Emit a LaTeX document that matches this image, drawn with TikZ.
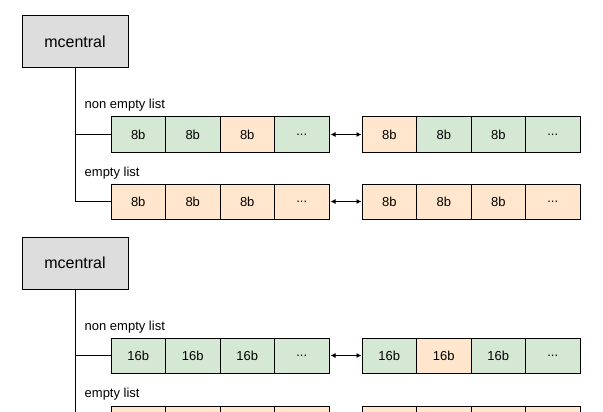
\documentclass[tikz,border=0pt]{standalone}
\usepackage{fontspec}
\setmainfont{Liberation Sans}
\usetikzlibrary{arrows.meta}
\definecolor{gfill}{HTML}{D5E8D4}
\definecolor{ofill}{HTML}{FFE6CC}
\definecolor{mfill}{HTML}{DDDDDD}
\tikzset{
  cell/.style={draw, line width=1pt, minimum width=54.5pt, minimum height=35pt,
    inner sep=0pt, outer sep=0pt, font=\fontsize{13}{15}\selectfont},
  mbox/.style={draw, line width=1pt, fill=mfill, minimum width=106pt, minimum height=52pt,
    inner sep=0pt, outer sep=0pt, font=\fontsize{16}{19}\selectfont},
  lbl/.style={anchor=base west, inner sep=0pt, font=\fontsize{13}{15}\selectfont},
  link/.style={line width=1pt},
  dbl/.style={line width=0.9pt, {Latex[length=5pt,width=5pt]}-{Latex[length=5pt,width=5pt]}}
}
\newcommand\cellrow[5]{%
  \foreach \c [count=\i] in {#5} {
    \pgfmathsetmacro\xx{#2+27.25+(\i-1)*54.5}
    \ifnum\i=4 \def\t{...}\else\def\t{#4}\fi
    \node[cell, fill=\c] (#1-\i) at (\xx,#3) {\t};
  }}
\newcommand\blankrow[4]{%
  \foreach \c [count=\i] in {#4} {
    \pgfmathsetmacro\xx{#2+27.25+(\i-1)*54.5}
    \node[cell, fill=\c] (#1-\i) at (\xx,#3) {};
  }}
\begin{document}
\begin{tikzpicture}[x=1pt,y=-1pt]
\useasboundingbox (0,0) rectangle (603,412);
\clip (0,0) rectangle (603,412);
% block 1
\node[mbox] (m1) at (75,42) {mcentral};
\node[lbl] (l1) at (84.5,109) {non empty list};
\node[lbl] (l2) at (84.5,176) {empty list};
\cellrow{r1a}{111}{134.5}{8b}{gfill,gfill,ofill,gfill}
\cellrow{r1b}{362}{134.5}{8b}{ofill,gfill,gfill,gfill}
\cellrow{r2a}{111}{201.5}{8b}{ofill,ofill,ofill,ofill}
\cellrow{r2b}{362}{201.5}{8b}{ofill,ofill,ofill,ofill}
\draw[link] (m1.south) |- (r1a-1.west);
\draw[link] (m1.south) |- (r2a-1.west);
\draw[dbl] ([xshift=1.5pt]r1a-4.east) -- ([xshift=-0.5pt]r1b-1.west);
\draw[dbl] ([xshift=1.5pt]r2a-4.east) -- ([xshift=-0.5pt]r2b-1.west);
% block 2
\node[mbox] (m2) at (75,263) {mcentral};
\node[lbl] (l3) at (84.5,330) {non empty list};
\node[lbl] (l4) at (84.5,397) {empty list};
\cellrow{r3a}{111}{355.5}{16b}{gfill,gfill,gfill,gfill}
\cellrow{r3b}{362}{355.5}{16b}{gfill,ofill,gfill,gfill}
\blankrow{r4a}{111}{423.5}{ofill,ofill,ofill,ofill}
\blankrow{r4b}{362}{423.5}{ofill,ofill,ofill,ofill}
\draw[link] (m2.south) |- (r3a-1.west);
\draw[link] (m2.south) |- (r4a-1.west);
\draw[dbl] ([xshift=1.5pt]r3a-4.east) -- ([xshift=-0.5pt]r3b-1.west);
\draw[dbl] ([xshift=1.5pt]r4a-4.east) -- ([xshift=-0.5pt]r4b-1.west);
\end{tikzpicture}
\end{document}
